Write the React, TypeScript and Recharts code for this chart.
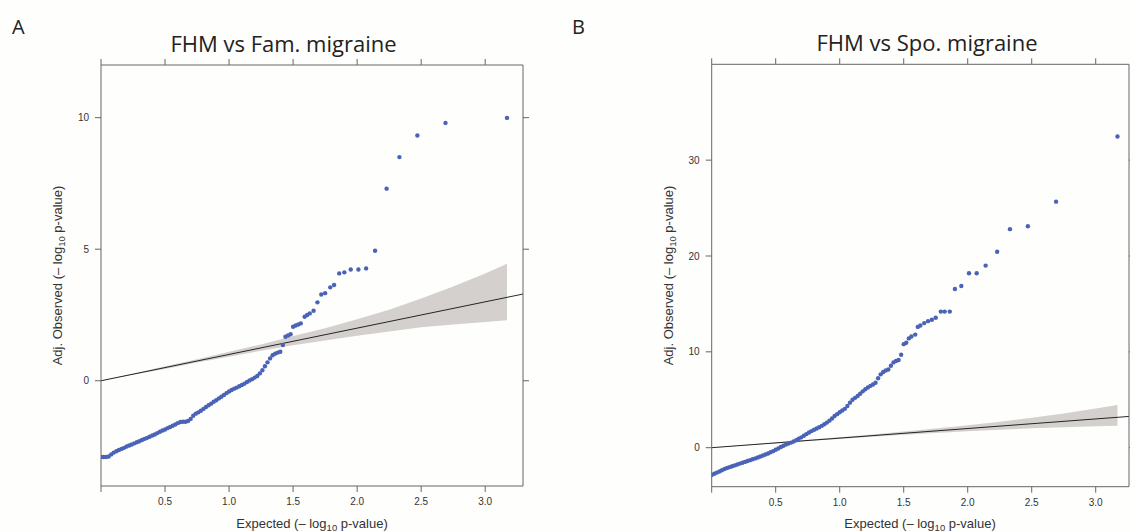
import React from 'react';
import { ComposedChart, Scatter, Line, Area, XAxis, YAxis } from 'recharts';

// Expected -log10 p (shared by both panels)
const expected = [
  0.00, 0.02, 0.04, 0.06, 0.08, 0.10, 0.12, 0.14, 0.16, 0.18,
  0.20, 0.22, 0.24, 0.26, 0.28, 0.30, 0.32, 0.34, 0.36, 0.38,
  0.40, 0.42, 0.44, 0.46, 0.48, 0.50, 0.52, 0.54, 0.56, 0.58,
  0.60, 0.62, 0.64, 0.66, 0.68, 0.70, 0.72, 0.74, 0.76, 0.78,
  0.80, 0.82, 0.84, 0.86, 0.88, 0.90, 0.92, 0.94, 0.96, 0.98,
  1.00, 1.02, 1.04, 1.06, 1.08, 1.10, 1.12, 1.14, 1.16, 1.18,
  1.20, 1.22, 1.24, 1.26, 1.28, 1.30, 1.32, 1.34, 1.36, 1.38,
  1.40, 1.42,
  1.44, 1.46, 1.48, 1.50, 1.52, 1.54, 1.56, 1.59, 1.61, 1.63,
  1.66, 1.69, 1.72, 1.75, 1.79, 1.82, 1.86, 1.90, 1.95, 2.01,
  2.07, 2.14, 2.23, 2.33, 2.47, 2.69, 3.17,
];

// Panel A: FHM vs Fam. migraine (adjusted observed)
const observedA = [
  -2.90, -2.90, -2.90, -2.88, -2.80, -2.73, -2.68, -2.63, -2.59, -2.55,
  -2.50, -2.46, -2.42, -2.38, -2.34, -2.30, -2.25, -2.21, -2.17, -2.13,
  -2.08, -2.04, -1.99, -1.94, -1.89, -1.85, -1.80, -1.76, -1.71, -1.66,
  -1.61, -1.57, -1.56, -1.56, -1.53, -1.45, -1.33, -1.25, -1.20, -1.14,
  -1.07, -1.00, -0.93, -0.87, -0.80, -0.74, -0.67, -0.61, -0.54, -0.47,
  -0.41, -0.35, -0.30, -0.26, -0.21, -0.16, -0.11, -0.05, 0.01, 0.06,
  0.12, 0.18, 0.28, 0.40, 0.55, 0.70, 0.85, 0.97, 1.03, 1.07,
  1.10, 1.36,
  1.67, 1.72, 1.77, 2.05, 2.10, 2.14, 2.18, 2.43, 2.50, 2.56,
  2.66, 2.98, 3.28, 3.33, 3.55, 3.64, 4.08, 4.12, 4.23, 4.23,
  4.27, 4.94, 7.30, 8.50, 9.32, 9.80, 9.99,
];

// Panel B: FHM vs Spo. migraine (adjusted observed)
const observedB = [
  -2.85, -2.72, -2.60, -2.48, -2.36, -2.22, -2.12, -2.03, -1.94, -1.85,
  -1.75, -1.66, -1.57, -1.48, -1.39, -1.30, -1.21, -1.12, -1.02, -0.92,
  -0.82, -0.71, -0.60, -0.48, -0.36, -0.22, -0.08, 0.07, 0.20, 0.32,
  0.43, 0.53, 0.64, 0.78, 0.93, 1.08, 1.25, 1.42, 1.58, 1.73,
  1.87, 2.00, 2.13, 2.28, 2.45, 2.62, 2.82, 3.05, 3.30, 3.50,
  3.70, 3.88, 4.05, 4.35, 4.70, 5.00, 5.20, 5.40, 5.62, 5.88,
  6.10, 6.28, 6.45, 6.60, 6.78, 7.25, 7.65, 7.90, 8.05, 8.15,
  8.55, 8.90,
  9.05, 9.15, 9.69, 10.80, 10.95, 11.40, 11.60, 11.80, 12.60, 12.75,
  13.00, 13.20, 13.35, 13.55, 14.20, 14.20, 14.20, 16.55, 16.87, 18.20,
  18.20, 19.00, 20.45, 22.80, 23.10, 25.67, 32.47,
];

// 95% confidence band around the diagonal
const bandExpected = [0, 0.25, 0.5, 0.75, 1.0, 1.25, 1.5, 1.75, 2.0, 2.25, 2.5, 2.75, 3.0, 3.17];
const bandLower = [0, 0.23, 0.45, 0.69, 0.91, 1.14, 1.35, 1.53, 1.71, 1.87, 2.03, 2.14, 2.23, 2.30];
const bandUpper = [0.01, 0.27, 0.55, 0.82, 1.10, 1.38, 1.70, 2.00, 2.34, 2.70, 3.13, 3.58, 4.08, 4.45];

// diagonal y = x
const diagonal = [0, 3.3];

const xTicks = [0, 0.5, 1.0, 1.5, 2.0, 2.5, 3.0];
const yTicksA = [0, 5, 10];
const yTicksB = [0, 10, 20, 30];

const titles = ['FHM vs Fam. migraine', 'FHM vs Spo. migraine'];
const letters = ['A', 'B'];

const POINT = '#4a63b6';
const AXIS = '#666';
const TICKTXT = '#333';

const dotShape = (p: any) => <circle cx={p.cx} cy={p.cy} r={2.2} fill={POINT} />;

type PanelProps = {
  left: number;
  width: number;
  margin: { top: number; right: number; bottom: number; left: number };
  xMax: number;
  yDomain: [number, number];
  yTicks: number[];
  observed: number[];
};

function QQPanel({ left, width, margin, xMax, yDomain, yTicks, observed }: PanelProps) {
  const points = expected.map((x, i) => ({ x, y: observed[i] }));
  const band = bandExpected.map((x, i) => ({ x, band: [bandLower[i], bandUpper[i]] }));
  const diag = diagonal.map((v) => ({ x: v, y: v }));
  const tickStyle = { fontSize: 10, fill: TICKTXT, fontFamily: 'Liberation Sans, Arial, sans-serif' };
  return (
    <div style={{ position: 'absolute', left, top: 0 }}>
      <ComposedChart width={width} height={532} margin={margin}>
        <XAxis
          xAxisId="b"
          type="number"
          dataKey="x"
          orientation="bottom"
          domain={[0, xMax]}
          allowDataOverflow
          ticks={xTicks}
          interval={0}
          height={30}
          tick={tickStyle}
          tickMargin={6}
          tickSize={6}
          stroke={AXIS}
          tickLine={{ stroke: AXIS }}
          tickFormatter={(v: number) => (v === 0 ? '' : v.toFixed(1))}
        />
        <XAxis
          xAxisId="t"
          type="number"
          dataKey="x"
          orientation="top"
          domain={[0, xMax]}
          allowDataOverflow
          ticks={xTicks}
          interval={0}
          height={10}
          tickSize={6}
          stroke={AXIS}
          tickLine={{ stroke: AXIS }}
          tickFormatter={() => ''}
        />
        <YAxis
          yAxisId="l"
          type="number"
          orientation="left"
          domain={yDomain}
          allowDataOverflow
          ticks={yTicks}
          interval={0}
          width={50}
          tick={tickStyle}
          tickMargin={6}
          tickSize={6}
          stroke={AXIS}
          tickLine={{ stroke: AXIS }}
        />
        <YAxis
          yAxisId="r"
          type="number"
          orientation="right"
          domain={yDomain}
          allowDataOverflow
          ticks={yTicks}
          interval={0}
          width={10}
          tickSize={6}
          stroke={AXIS}
          tickLine={{ stroke: AXIS }}
          tickFormatter={() => ''}
        />
        <Area
          xAxisId="b"
          yAxisId="l"
          data={band}
          dataKey="band"
          type="linear"
          fill="#d4d0cd"
          fillOpacity={1}
          stroke="none"
          isAnimationActive={false}
        />
        <Line
          xAxisId="b"
          yAxisId="l"
          data={diag}
          dataKey="y"
          type="linear"
          stroke="#111"
          strokeWidth={0.9}
          dot={false}
          activeDot={false}
          isAnimationActive={false}
        />
        <Scatter
          xAxisId="b"
          yAxisId="l"
          data={points}
          dataKey="y"
          shape={dotShape}
          isAnimationActive={false}
        />
      </ComposedChart>
    </div>
  );
}

const labelFont = 'Liberation Sans, Arial, sans-serif';
const titleFont = 'Open Sans, Noto Sans, sans-serif';

function XLabel({ cx }: { cx: number }) {
  return (
    <text x={cx} y={528} textAnchor="middle" fontFamily={labelFont} fontSize={13} fill={TICKTXT}>
      Expected (– log<tspan fontSize={9.5} dy={3}>10</tspan>
      <tspan dy={-3}> p-value)</tspan>
    </text>
  );
}

function YLabel({ x, cy }: { x: number; cy: number }) {
  return (
    <text
      x={x}
      y={cy}
      transform={`rotate(-90 ${x} ${cy})`}
      textAnchor="middle"
      fontFamily={labelFont}
      fontSize={13}
      fill={TICKTXT}
    >
      Adj. Observed (– log<tspan fontSize={9.5} dy={3}>10</tspan>
      <tspan dy={-3}> p-value)</tspan>
    </text>
  );
}

export default function App() {
  return (
    <div style={{ position: 'absolute', left: 0, top: 0, width: 1130, height: 532, background: '#fefefd', overflow: 'hidden' }}>
      <QQPanel
        left={0}
        width={565}
        margin={{ top: 55, right: 32, bottom: 16, left: 51 }}
        xMax={3.295}
        yDomain={[-4, 12]}
        yTicks={yTicksA}
        observed={observedA}
      />
      <QQPanel
        left={565}
        width={580}
        margin={{ top: 54.3, right: 6, bottom: 15.3, left: 96.7 }}
        xMax={3.26}
        yDomain={[-4.07, 40]}
        yTicks={yTicksB}
        observed={observedB}
      />
      <svg width={1130} height={532} style={{ position: 'absolute', left: 0, top: 0, pointerEvents: 'none' }}>
        <text x={12} y={34} fontFamily={titleFont} fontSize={20} fill="#222">{letters[0]}</text>
        <text x={572} y={34} fontFamily={titleFont} fontSize={20} fill="#222">{letters[1]}</text>
        <text x={283.5} y={52} textAnchor="middle" fontFamily={titleFont} fontSize={22} fill="#222">{titles[0]}</text>
        <text x={927} y={51} textAnchor="middle" fontFamily={titleFont} fontSize={22} fill="#222">{titles[1]}</text>
        <XLabel cx={312} />
        <XLabel cx={920} />
        <YLabel x={62} cy={275.5} />
        <YLabel x={673} cy={275.5} />
      </svg>
    </div>
  );
}
